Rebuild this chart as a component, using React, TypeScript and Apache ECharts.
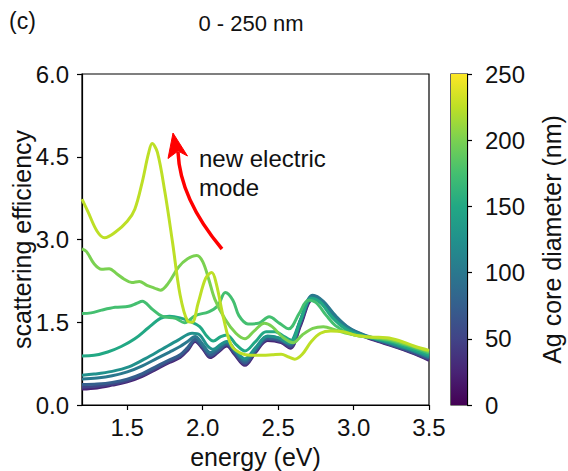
import React, { useEffect, useRef } from 'react';
import * as echarts from 'echarts';

// x tick values (energy, eV)
const xTicks = [1.5, 2.0, 2.5, 3.0, 3.5];
// core diameters (nm) of plotted curves
const diameters = [25, 50, 75, 100, 125, 150, 175, 200, 225];

const d25 = [[1.20,0.29],[1.30,0.31],[1.40,0.36],[1.50,0.42],[1.60,0.52],[1.70,0.66],[1.78,0.77],[1.85,0.86],[1.90,0.99],[1.95,1.15],[2.00,1.02],[2.05,0.86],[2.10,0.95],[2.16,1.07],[2.21,0.92],[2.28,0.72],[2.35,0.95],[2.43,1.17],[2.52,1.13],[2.58,1.03],[2.65,1.45],[2.73,1.92],[2.80,1.82],[2.88,1.58],[2.97,1.37],[3.08,1.23],[3.20,1.12],[3.30,1.03],[3.40,0.93],[3.50,0.81]];
const d50 = [[1.20,0.32],[1.30,0.34],[1.40,0.38],[1.50,0.44],[1.60,0.54],[1.70,0.68],[1.78,0.79],[1.85,0.88],[1.90,1.01],[1.95,1.17],[2.00,1.04],[2.05,0.88],[2.10,0.97],[2.16,1.09],[2.21,0.94],[2.28,0.74],[2.35,0.97],[2.43,1.19],[2.52,1.15],[2.58,1.05],[2.65,1.48],[2.73,1.95],[2.80,1.84],[2.88,1.59],[2.97,1.38],[3.08,1.24],[3.20,1.13],[3.30,1.04],[3.40,0.94],[3.50,0.83]];
const d75 = [[1.20,0.37],[1.30,0.38],[1.40,0.41],[1.50,0.47],[1.60,0.57],[1.70,0.71],[1.78,0.82],[1.85,0.91],[1.90,1.04],[1.95,1.19],[2.00,1.06],[2.05,0.91],[2.10,0.99],[2.16,1.11],[2.21,0.97],[2.28,0.77],[2.35,0.99],[2.43,1.21],[2.52,1.17],[2.58,1.08],[2.65,1.52],[2.73,1.98],[2.80,1.86],[2.88,1.61],[2.97,1.39],[3.08,1.25],[3.20,1.14],[3.30,1.05],[3.40,0.96],[3.50,0.85]];
const d100 = [[1.20,0.47],[1.30,0.49],[1.40,0.53],[1.50,0.60],[1.60,0.71],[1.70,0.85],[1.78,0.96],[1.85,1.06],[1.90,1.15],[1.95,1.24],[2.00,1.10],[2.05,0.95],[2.10,1.03],[2.16,1.14],[2.21,1.01],[2.28,0.81],[2.35,1.02],[2.43,1.24],[2.52,1.20],[2.58,1.11],[2.65,1.56],[2.73,1.99],[2.80,1.88],[2.88,1.62],[2.97,1.40],[3.08,1.26],[3.20,1.16],[3.30,1.07],[3.40,0.98],[3.50,0.87]];
const d125 = [[1.20,0.54],[1.28,0.56],[1.40,0.61],[1.51,0.69],[1.62,0.84],[1.73,1.01],[1.84,1.18],[1.93,1.30],[1.98,1.27],[2.03,1.08],[2.07,1.01],[2.12,1.10],[2.16,1.15],[2.22,0.97],[2.28,0.84],[2.35,1.04],[2.43,1.25],[2.50,1.22],[2.57,1.12],[2.64,1.48],[2.72,1.94],[2.78,1.87],[2.86,1.60],[2.95,1.39],[3.05,1.27],[3.15,1.19],[3.25,1.12],[3.35,1.03],[3.50,0.88]];
const d150 = [[1.20,0.89],[1.28,0.90],[1.37,0.96],[1.46,1.06],[1.55,1.20],[1.64,1.40],[1.72,1.57],[1.78,1.61],[1.85,1.58],[1.92,1.51],[1.98,1.42],[2.03,1.24],[2.07,1.16],[2.12,1.24],[2.16,1.27],[2.22,1.10],[2.28,0.98],[2.35,1.15],[2.42,1.33],[2.48,1.33],[2.54,1.24],[2.59,1.17],[2.65,1.55],[2.72,1.93],[2.78,1.86],[2.86,1.58],[2.95,1.37],[3.05,1.26],[3.15,1.20],[3.25,1.14],[3.35,1.05],[3.50,0.91]];
const d175 = [[1.20,1.66],[1.26,1.67],[1.33,1.72],[1.42,1.77],[1.51,1.79],[1.56,1.84],[1.60,1.88],[1.66,1.75],[1.73,1.61],[1.82,1.57],[1.88,1.49],[1.95,1.62],[2.04,1.69],[2.10,1.80],[2.15,2.04],[2.20,1.90],[2.24,1.62],[2.30,1.47],[2.37,1.48],[2.44,1.60],[2.51,1.48],[2.57,1.38],[2.64,1.66],[2.70,1.90],[2.75,1.86],[2.82,1.62],[2.88,1.44],[2.97,1.30],[3.06,1.24],[3.15,1.21],[3.25,1.16],[3.35,1.08],[3.50,0.94]];
const d200 = [[1.20,2.83],[1.23,2.78],[1.28,2.56],[1.33,2.46],[1.38,2.47],[1.43,2.38],[1.48,2.28],[1.53,2.22],[1.58,2.24],[1.63,2.17],[1.68,2.12],[1.72,2.08],[1.77,2.20],[1.84,2.50],[1.90,2.65],[1.96,2.71],[2.00,2.60],[2.04,2.28],[2.08,1.92],[2.15,1.55],[2.22,1.30],[2.28,1.20],[2.34,1.34],[2.41,1.48],[2.46,1.42],[2.53,1.23],[2.60,1.13],[2.66,1.27],[2.73,1.39],[2.80,1.42],[2.88,1.36],[2.97,1.29],[3.05,1.25],[3.15,1.22],[3.25,1.18],[3.35,1.10],[3.50,0.97]];
const d225 = [[1.20,3.73],[1.24,3.50],[1.30,3.15],[1.35,3.03],[1.42,3.13],[1.50,3.33],[1.55,3.55],[1.60,4.05],[1.64,4.55],[1.665,4.74],[1.70,4.58],[1.75,3.85],[1.80,2.95],[1.85,2.00],[1.90,1.52],[1.93,1.50],[1.97,1.85],[2.02,2.30],[2.06,2.40],[2.09,2.20],[2.14,1.55],[2.19,1.08],[2.25,0.94],[2.32,0.90],[2.40,0.90],[2.46,0.91],[2.52,0.92],[2.57,0.87],[2.61,0.83],[2.66,0.92],[2.72,1.15],[2.78,1.30],[2.85,1.34],[2.93,1.33],[3.02,1.26],[3.12,1.23],[3.22,1.22],[3.30,1.17],[3.40,1.07],[3.50,0.99]];

const curves = [d25, d50, d75, d100, d125, d150, d175, d200, d225];

const viridis = ['#440154','#482475','#414487','#355f8d','#2a788e','#21918c','#22a884','#44bf70','#7ad151','#bddf26','#fde725'];

function hexToRgb(h: string) {
  return [parseInt(h.slice(1, 3), 16), parseInt(h.slice(3, 5), 16), parseInt(h.slice(5, 7), 16)];
}
function viridisAt(t: number) {
  const p = Math.max(0, Math.min(1, t)) * (viridis.length - 1);
  const i = Math.min(Math.floor(p), viridis.length - 2);
  const f = p - i;
  const a = hexToRgb(viridis[i]);
  const b = hexToRgb(viridis[i + 1]);
  const c = a.map((v, k) => Math.round(v + (b[k] - v) * f));
  return `rgb(${c[0]},${c[1]},${c[2]})`;
}

const FONT = "'Liberation Sans', Arial, sans-serif";
const INK = '#111';

export default function App() {
  const ref = useRef<HTMLDivElement>(null);
  useEffect(() => {
    if (!ref.current) return;
    const chart = echarts.init(ref.current, null, { renderer: 'svg' });
    const lineSeries = curves.map((c, i) => ({
      type: 'line',
      name: `${diameters[i]} nm`,
      xAxisIndex: 0,
      yAxisIndex: 0,
      data: c,
      smooth: 0.35,
      symbol: 'none',
      showSymbol: false,
      silent: true,
      lineStyle: { width: 3, color: viridisAt(diameters[i] / 250) },
      z: 2 + i,
    }));
    const option: any = {
      animation: false,
      textStyle: { fontFamily: FONT },
      grid: [
        { left: 82, top: 74, right: 139, bottom: 66, containLabel: false, outerBoundsMode: 'none', show: true, borderColor: '#000', borderWidth: 1.2, backgroundColor: 'transparent' },
        { left: 451, top: 74, width: 16, bottom: 66, containLabel: false, outerBoundsMode: 'none', show: true, borderColor: '#000', borderWidth: 1.2, backgroundColor: 'transparent' },
      ],
      xAxis: [
        {
          type: 'value', gridIndex: 0, min: 1.2, max: 3.5,
          axisLine: { show: true, lineStyle: { color: '#000', width: 1.2 } },
          axisTick: { show: true, inside: false, length: 5, customValues: xTicks, lineStyle: { color: '#000', width: 1.2 } },
          axisLabel: { customValues: xTicks, formatter: (v: number) => v.toFixed(1), fontSize: 24, color: INK, margin: 10, fontFamily: FONT },
          splitLine: { show: false },
          name: 'energy (eV)', nameLocation: 'middle', nameGap: 39, nameMoveOverlap: false,
          nameTextStyle: { fontSize: 25, color: INK, fontFamily: FONT },
        },
        { type: 'category', gridIndex: 1, data: [''], show: false },
      ],
      yAxis: [
        {
          type: 'value', gridIndex: 0, min: 0, max: 6, interval: 1.5,
          axisLine: { show: true, lineStyle: { color: '#000', width: 1.2 } },
          axisTick: { show: true, inside: false, length: 5, lineStyle: { color: '#000', width: 1.2 } },
          axisLabel: { formatter: (v: number) => v.toFixed(1), fontSize: 24, color: INK, margin: 13, fontFamily: FONT },
          splitLine: { show: false },
          name: 'scattering efficiency', nameLocation: 'middle', nameGap: 48, nameRotate: 90, nameMoveOverlap: false,
          nameTextStyle: { fontSize: 25, color: INK, fontFamily: FONT },
        },
        {
          type: 'value', gridIndex: 1, min: 0, max: 250, interval: 50, position: 'right',
          axisLine: { show: true, lineStyle: { color: '#000', width: 1.2 } },
          axisTick: { show: true, inside: false, length: 5, lineStyle: { color: '#000', width: 1.2 } },
          axisLabel: { fontSize: 24, color: INK, margin: 18, fontFamily: FONT },
          splitLine: { show: false },
          name: 'Ag core diameter (nm)', nameLocation: 'middle', nameGap: 72, nameRotate: 90, nameMoveOverlap: false,
          nameTextStyle: { fontSize: 25, color: INK, fontFamily: FONT },
        },
      ],
      series: [
        ...lineSeries,
        {
          type: 'bar', xAxisIndex: 1, yAxisIndex: 1, data: [250], barWidth: '100%', silent: true,
          itemStyle: {
            color: new echarts.graphic.LinearGradient(0, 1, 0, 0,
              viridis.map((c, i) => ({ offset: i / (viridis.length - 1), color: c }))),
          },
        },
      ],
      graphic: [
        { type: 'text', left: 9, top: 9, style: { text: '(c)', fontSize: 23, fill: INK, fontFamily: FONT } },
        { type: 'text', x: 251, y: 23, style: { text: '0 - 250 nm', fontSize: 22, fill: INK, fontFamily: FONT, textAlign: 'center', textVerticalAlign: 'middle' } },
        {
          type: 'bezierCurve', z: 100,
          shape: { x1: 222, y1: 249, x2: 178, y2: 152, cpx1: 180, cpy1: 199 },
          style: { stroke: '#ff0000', lineWidth: 3.5, fill: 'none' },
        },
        {
          type: 'polygon', z: 101,
          shape: { points: [[173, 133], [187.5, 156], [178, 151], [168, 158.5]] },
          style: { fill: '#ff0000', stroke: '#ff0000', lineWidth: 1 },
        },
        {
          type: 'text', x: 199, y: 144, z: 100,
          style: { text: 'new electric\nmode', fontSize: 24, lineHeight: 29, fill: INK, fontFamily: FONT, textVerticalAlign: 'top' },
        },
      ],
    };
    chart.setOption(option);
    return () => chart.dispose();
  }, []);
  return <div ref={ref} style={{ position: 'fixed', left: 0, top: 0, width: 568, height: 471, background: '#fff' }} />;
}
